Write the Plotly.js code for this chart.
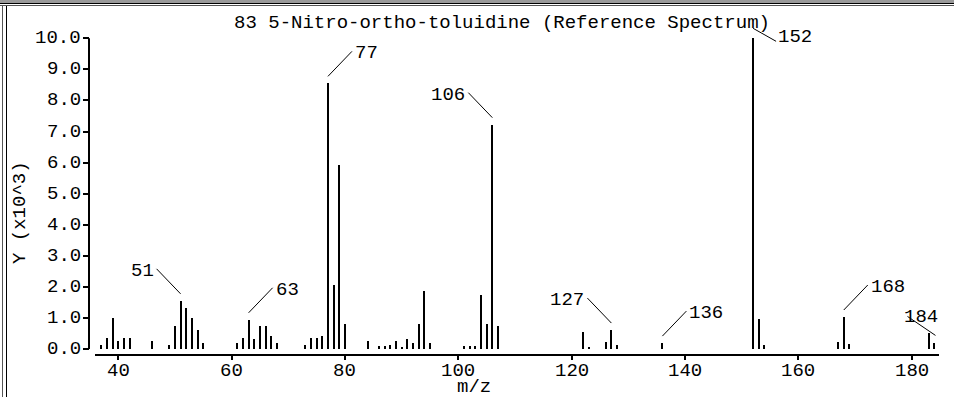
<!DOCTYPE html>
<html><head><meta charset="utf-8">
<script src="https://cdn.plot.ly/plotly-3.0.1.min.js"></script>
<style>
html,body{margin:0;padding:0;background:#fff;}
#wrap{position:relative;width:954px;height:397px;overflow:hidden;}
#chart{position:absolute;left:0;top:0;width:954px;height:397px;}
.fr{position:absolute;}
</style></head><body>
<div id="wrap"><div id="chart"></div>
<div class="fr" style="left:0;top:0;width:954px;height:3px;background:#9a9a9a"></div>
<div class="fr" style="left:0;top:3px;width:954px;height:1px;background:#000"></div>
<div class="fr" style="left:0;top:5px;width:954px;height:1px;background:#555"></div>
<div class="fr" style="left:2px;top:5px;width:1px;height:392px;background:#555"></div>
<div class="fr" style="left:6px;top:6px;width:1px;height:391px;background:#000"></div>
</div>
<script>
// ---- data (intensity in units of 10^3) ----
const mz = [37,38,39,40,41,42,46,49,50,51,52,53,54,55,61,62,63,64,65,66,67,68,73,74,75,76,77,78,79,80,84,86,87,88,89,90,91,92,93,94,95,101,102,103,104,105,106,107,122,123,126,127,128,136,152,153,154,167,168,169,183,184];
const intensity = [0.13,0.37,0.99,0.25,0.37,0.37,0.25,0.13,0.75,1.55,1.31,0.99,0.62,0.18,0.18,0.37,0.94,0.32,0.75,0.75,0.43,0.18,0.13,0.37,0.37,0.43,8.55,2.06,5.92,0.81,0.25,0.11,0.11,0.12,0.25,0.08,0.31,0.19,0.82,1.86,0.18,0.11,0.11,0.11,1.74,0.81,7.22,0.73,0.54,0.08,0.24,0.61,0.13,0.19,10.0,0.96,0.13,0.22,1.03,0.16,0.5,0.18];
const peakLabels = [51,63,77,106,127,136,152,168,184];
const xTicks = [40,60,80,100,120,140,160,180];
const yTicks = [0,1,2,3,4,5,6,7,8,9,10];
const titleText = '83 5-Nitro-ortho-toluidine (Reference Spectrum)';
const xTitle = 'm/z';
const yTitle = 'Y (x10^3)';

// ---- styling ----
const FONT = {family:'"Liberation Mono", "DejaVu Sans Mono", monospace', size:19, color:'#000'};
const W = 954, H = 397;
const M = {l:89, r:15, t:20, b:43};
const plotW = W - M.l - M.r, plotH = H - M.t - M.b;
const pxPerY = 31.07;
const yBottom = -5/pxPerY;
const yTop = yBottom + plotH/pxPerY;

// label leader geometry by direction
const leaderStyle = {
  51:'ul', 63:'ur', 77:'ur', 106:'ul', 127:'ul', 136:'ur', 152:'dr', 168:'ur', 184:'ul2'
};
const geo = {
  ur: {l:[0,7,24,32], tx:25, ty:30, anchor:'left'},
  ul: {l:[0,7,-24,32], tx:-25, ty:30, anchor:'right'},
  dr: {l:[0,10,23,-3], tx:23, ty:1, anchor:'left'},
  ul2:{l:[1,8,-27,27], tx:-32, ty:26, anchor:'left'}
};

const shapes = [];
const annotations = [];
peakLabels.forEach(m => {
  const v = intensity[mz.indexOf(m)];
  const g = geo[leaderStyle[m]];
  shapes.push({type:'line', xref:'x', yref:'y', xsizemode:'pixel', ysizemode:'pixel',
    xanchor:m, yanchor:v, x0:g.l[0], y0:g.l[1], x1:g.l[2], y1:g.l[3],
    line:{color:'#000', width:1}});
  annotations.push({x:m, y:v, xref:'x', yref:'y', text:String(m), showarrow:false,
    xanchor:g.anchor, yanchor:'middle', xshift:g.tx, yshift:g.ty, font:FONT});
});
// y axis line from first to last tick
shapes.push({type:'line', xref:'paper', yref:'y', x0:0, x1:0, y0:yTicks[0], y1:yTicks[yTicks.length-1],
  line:{color:'#000', width:2}});

// tick labels placed as text next to the axis ticks
xTicks.forEach(t => annotations.push({x:t, xref:'x', yref:'paper', y:0, text:String(t), showarrow:false,
  xanchor:'center', yanchor:'middle', yshift:-17, font:FONT}));
yTicks.forEach(t => annotations.push({x:0, xref:'paper', yref:'y', y:t, text:t.toFixed(1), showarrow:false,
  xanchor:'right', yanchor:'middle', xshift:-6, font:FONT}));

annotations.push({text:xTitle, xref:'paper', yref:'paper', x:(474-M.l)/plotW, y:0, yanchor:'middle',
  yshift:-(387-(H-M.b)), showarrow:false, font:FONT});
annotations.push({text:yTitle, xref:'paper', yref:'paper', x:0, y:(H-M.b-213)/plotH, xanchor:'center', yanchor:'middle',
  xshift:-(M.l-20), textangle:-90, showarrow:false, font:FONT});

const trace = {type:'bar', x:mz, y:intensity, width:0.35, marker:{color:'#000', line:{width:0}},
  hoverinfo:'x+y'};

const layout = {
  width:W, height:H, margin:M, paper_bgcolor:'#fff', plot_bgcolor:'#fff', showlegend:false,
  font:FONT,
  title:{text:titleText, font:FONT, xref:'paper', x:(502-M.l)/plotW, xanchor:'center',
    yref:'container', y:1-21/H, yanchor:'middle'},
  xaxis:{domain:[6/plotW,1], range:[35.9,184.8], tickvals:xTicks, showticklabels:false,
    ticks:'outside', ticklen:4, tickwidth:2, tickcolor:'#000',
    showline:true, linewidth:2, linecolor:'#000', showgrid:false, zeroline:false},
  yaxis:{anchor:'free', position:0, range:[yBottom, yTop], tickvals:yTicks, showticklabels:false,
    ticks:'outside', ticklen:6, tickwidth:2, tickcolor:'#000',
    showline:false, showgrid:false, zeroline:false},
  shapes:shapes, annotations:annotations, bargap:0
};
Plotly.newPlot('chart', [trace], layout, {displayModeBar:false, staticPlot:true});
</script></body></html>
